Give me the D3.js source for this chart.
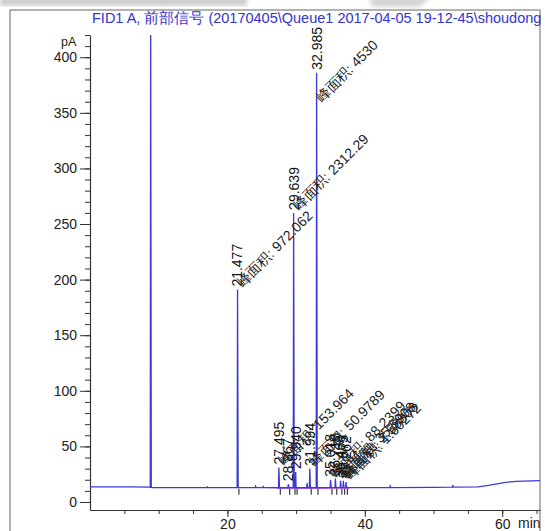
<!DOCTYPE html>
<meta charset="utf-8">
<style>
body { margin: 0; background: #fff; }
#chart text { font-family: "Liberation Sans", Arial, sans-serif; }
#chart .axis path, #chart .axis line { stroke: #333; }
#chart .axis text { font-size: 14px; fill: #222; }
</style>
<svg id="chart" width="545" height="531"></svg>
<script src="https://d3js.org/d3.v7.min.js"></script>
<script>

var title = "FID1 A, 前部信号 (20170405\\Queue1 2017-04-05 19-12-45\\shoudong";

// labelled peaks: retention time (min), apex height (pA), area
var peakTimes   = [21.477, 27.495, 28.867, 29.639, 29.940, 31.994, 32.985, 35.018, 35.716, 36.468, 36.875, 37.262];
var peakHeights = [191, 31, 16, 260, 27, 30, 386, 20, 21, 19, 19, 18];
var peakAreas   = ["972.062", "153.964", null, "2312.29", null, "50.9789", "4530", "88.2399", null, "35.5908", "2.58808", "1.60272"];

// unlabelled bumps (solvent peak goes off scale)
var minorTimes   = [8.83, 17.1, 24.1, 25.2, 31.6, 43.7, 52.8];
var minorHeights = [440, 13.6, 14.2, 13.9, 17, 14.4, 15.2];

// baseline drift
var baseTimes  = [0, 5.8, 8.6, 9.1, 20, 30, 40, 50, 56.5, 58, 60.5, 62, 65.5];
var baseValues = [13.6, 13.6, 13.3, 12.9, 12.9, 12.8, 12.9, 13.1, 13.6, 15, 17.7, 18.6, 19.2];

var yMajor = [0, 50, 100, 150, 200, 250, 300, 350, 400];
var yMinor = d3.range(0, 421, 10);
var xMajor = [20, 40, 60];
var xMinor = d3.range(5, 66, 5);

var svg = d3.select("#chart");

var x = d3.scaleLinear().domain([0, 65.5]).range([90, 540]);
var y = d3.scaleLinear().domain([-7.2, 420]).range([510, 35]);
var base = d3.scaleLinear().domain(baseTimes).range(baseValues).clamp(true);

var defs = svg.append("defs");
defs.append("filter").attr("id", "blur")
  .append("feGaussianBlur").attr("stdDeviation", 2);
defs.append("clipPath").attr("id", "plot")
  .append("rect").attr("x", 90).attr("y", 35).attr("width", 450).attr("height", 475);

// faint watermark remains at the top
svg.append("rect").attr("x", 0).attr("y", -4).attr("width", 247).attr("height", 10)
  .attr("fill", "#cfcfcf").attr("filter", "url(#blur)");
svg.append("path").attr("d", "M368,-4L432,-4L420,7L372,7Z")
  .attr("fill", "#d6d6d6").attr("filter", "url(#blur)");

// frame
svg.append("rect").attr("x", 10).attr("y", 10).attr("width", 530).attr("height", 540)
  .attr("fill", "none").attr("stroke", "#999").attr("stroke-width", 1.5);

svg.append("text")
  .attr("x", 92).attr("y", 23)
  .attr("font-size", 14.5)
  .attr("fill", "#3333cc")
  .text(title);

// axes
var yAxis = svg.append("g").attr("class", "axis")
  .attr("transform", "translate(90,0)");
yAxis.call(d3.axisLeft(y).tickValues(yMinor).tickSize(5).tickSizeOuter(0).tickFormat(""));
yAxis.append("g").call(d3.axisLeft(y).tickValues(yMajor).tickSize(10).tickSizeOuter(0).tickPadding(3))
  .select(".domain").remove();

var xAxis = svg.append("g").attr("class", "axis")
  .attr("transform", "translate(0,510)");
xAxis.call(d3.axisBottom(x).tickValues(xMinor).tickSize(4).tickSizeOuter(0).tickFormat(""));
xAxis.append("g").call(d3.axisBottom(x).tickValues(xMajor).tickSize(7).tickSizeOuter(0).tickPadding(2))
  .select(".domain").remove();
svg.selectAll(".axis .domain").attr("stroke-width", 1.2);

svg.append("text").attr("x", 61).attr("y", 46).attr("font-size", 12.5).attr("fill", "#222").text("pA");
svg.append("text").attr("x", 518).attr("y", 528).attr("font-size", 14).attr("fill", "#222").text("min");

// trace: baseline with narrow peaks
var pts = baseTimes.map(function(t, i) { return [t, baseValues[i]]; });
peakTimes.forEach(function(t, i) {
  pts.push([t - 0.06, base(t - 0.06)], [t, peakHeights[i]], [t + 0.09, base(t + 0.09)]);
});
minorTimes.forEach(function(t, i) {
  pts.push([t - 0.06, base(t - 0.06)], [t, minorHeights[i]], [t + 0.09, base(t + 0.09)]);
});
pts.sort(function(a, b) { return a[0] - b[0]; });

var line = d3.line().x(function(d) { return x(d[0]); }).y(function(d) { return y(d[1]); });

// integration baseline and event marks
svg.append("line")
  .attr("x1", x(27.2)).attr("x2", x(37.8))
  .attr("y1", y(12.4)).attr("y2", y(12.4))
  .attr("stroke", "#e040e0").attr("stroke-width", 1);

svg.append("g").selectAll("line")
  .data(peakTimes)
  .enter().append("line")
  .attr("x1", function(d) { return x(d + 0.2); })
  .attr("x2", function(d) { return x(d + 0.2); })
  .attr("y1", function(d) { return y(base(d)) + 1; })
  .attr("y2", function(d) { return y(base(d)) + 7; })
  .attr("stroke", "#111").attr("stroke-width", 1);

svg.append("path")
  .datum(pts)
  .attr("clip-path", "url(#plot)")
  .attr("fill", "none")
  .attr("stroke", "#3b3bd4")
  .attr("stroke-width", 1.3)
  .attr("d", line);

// labels
var labels = svg.append("g");

labels.selectAll("text.rt")
  .data(peakTimes)
  .enter().append("text")
  .attr("class", "rt")
  .attr("transform", function(d, i) {
    return "translate(" + x(d) + "," + (y(peakHeights[i]) - 3) + ") rotate(-90)";
  })
  .attr("dy", "0.35em")
  .attr("font-size", 14)
  .attr("fill", "#111")
  .text(function(d) { return d.toFixed(3); });

var withArea = peakTimes.filter(function(d, i) { return peakAreas[i]; });

labels.selectAll("text.area")
  .data(withArea)
  .enter().append("text")
  .attr("class", "area")
  .attr("font-size", 14)
  .attr("fill", "#222")
  .text(function(d) { return "峰面积: " + peakAreas[peakTimes.indexOf(d)]; })
  .each(function(d) {
    var i = peakTimes.indexOf(d);
    var len = this.getComputedTextLength();
    var sy = y(peakHeights[i]) - 2;
    // keep the slanted label inside the plot
    var top = sy - len / Math.SQRT2 - 8;
    if (top < 38) sy += 38 - top;
    d3.select(this).attr("transform",
      "translate(" + (x(d) + 5) + "," + sy + ") rotate(-45)");
  });

</script>
